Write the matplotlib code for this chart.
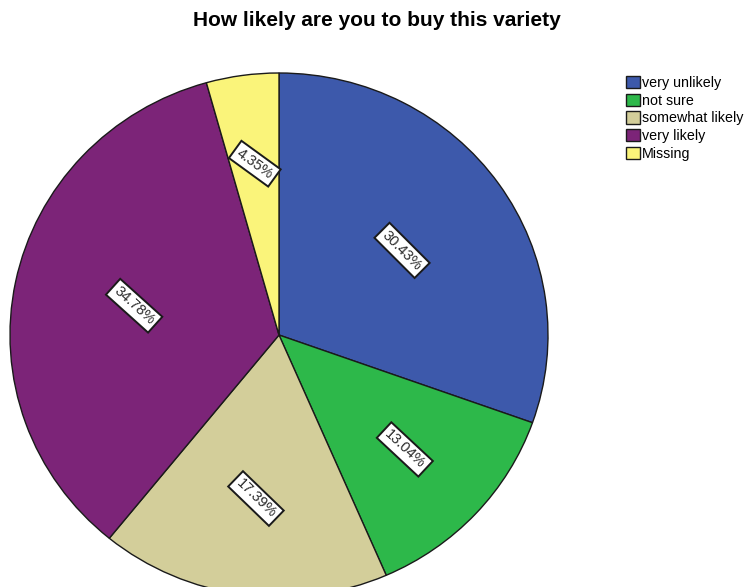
import matplotlib
matplotlib.use("Agg")
import matplotlib.pyplot as plt
import numpy as np

plt.rcParams['font.family'] = ['Liberation Sans', 'DejaVu Sans']

# data
categories = ["very unlikely", "not sure", "somewhat likely", "very likely", "Missing"]
percents = [30.43, 13.04, 17.39, 34.78, 4.35]
colors = ["#3D59AB", "#2DB84A", "#D3CE9A", "#7C2478", "#FAF47A"]
title = "How likely are you to buy this variety"

W, H = 745, 587
fig = plt.figure(figsize=(W / 100, H / 100), dpi=100)

# pie axes, pixel geometry of the reference (center 279,335 ; rx 269, ry 262)
cx, cy, rx, ry = 279, 335, 269, 262
ax = fig.add_axes([(cx - rx) / W, (H - cy - ry) / H, 2 * rx / W, 2 * ry / H])
wedges, _ = ax.pie(percents, colors=colors, startangle=90, counterclock=False,
                   wedgeprops=dict(edgecolor="#1a1a1a", linewidth=1.0))
ax.set_aspect('auto')
ax.set_xlim(-1, 1)
ax.set_ylim(-1, 1)

# percent labels, boxed and rotated like SPSS
dists = [0.56, 0.64, 0.63, 0.55, 0.66]
rots = [-45, -43, -44, -42, -36]
for w, p, d, r in zip(wedges, percents, dists, rots):
    mid = np.deg2rad((w.theta1 + w.theta2) / 2)
    ax.text(d * np.cos(mid), d * np.sin(mid), "{0:.2f}%".format(p),
            ha='center', va='center', rotation=r, rotation_mode='anchor',
            fontsize=10.5, color="#2a2a2a",
            bbox=dict(boxstyle="square,pad=0.25", fc="white", ec="#1a1a1a", lw=1.4))

fig.text(377 / W, 1 - 21 / H, title, ha='center', va='center',
         fontsize=15, fontweight='bold')

leg = fig.legend(wedges, categories, loc='upper left',
                 bbox_to_anchor=(626 / W, 1 - 76 / H), frameon=False,
                 fontsize=10.3, handlelength=0.95, handleheight=0.95,
                 handletextpad=0.15, labelspacing=0.25, borderpad=0,
                 borderaxespad=0)

fig.savefig("out.png", dpi=100)
